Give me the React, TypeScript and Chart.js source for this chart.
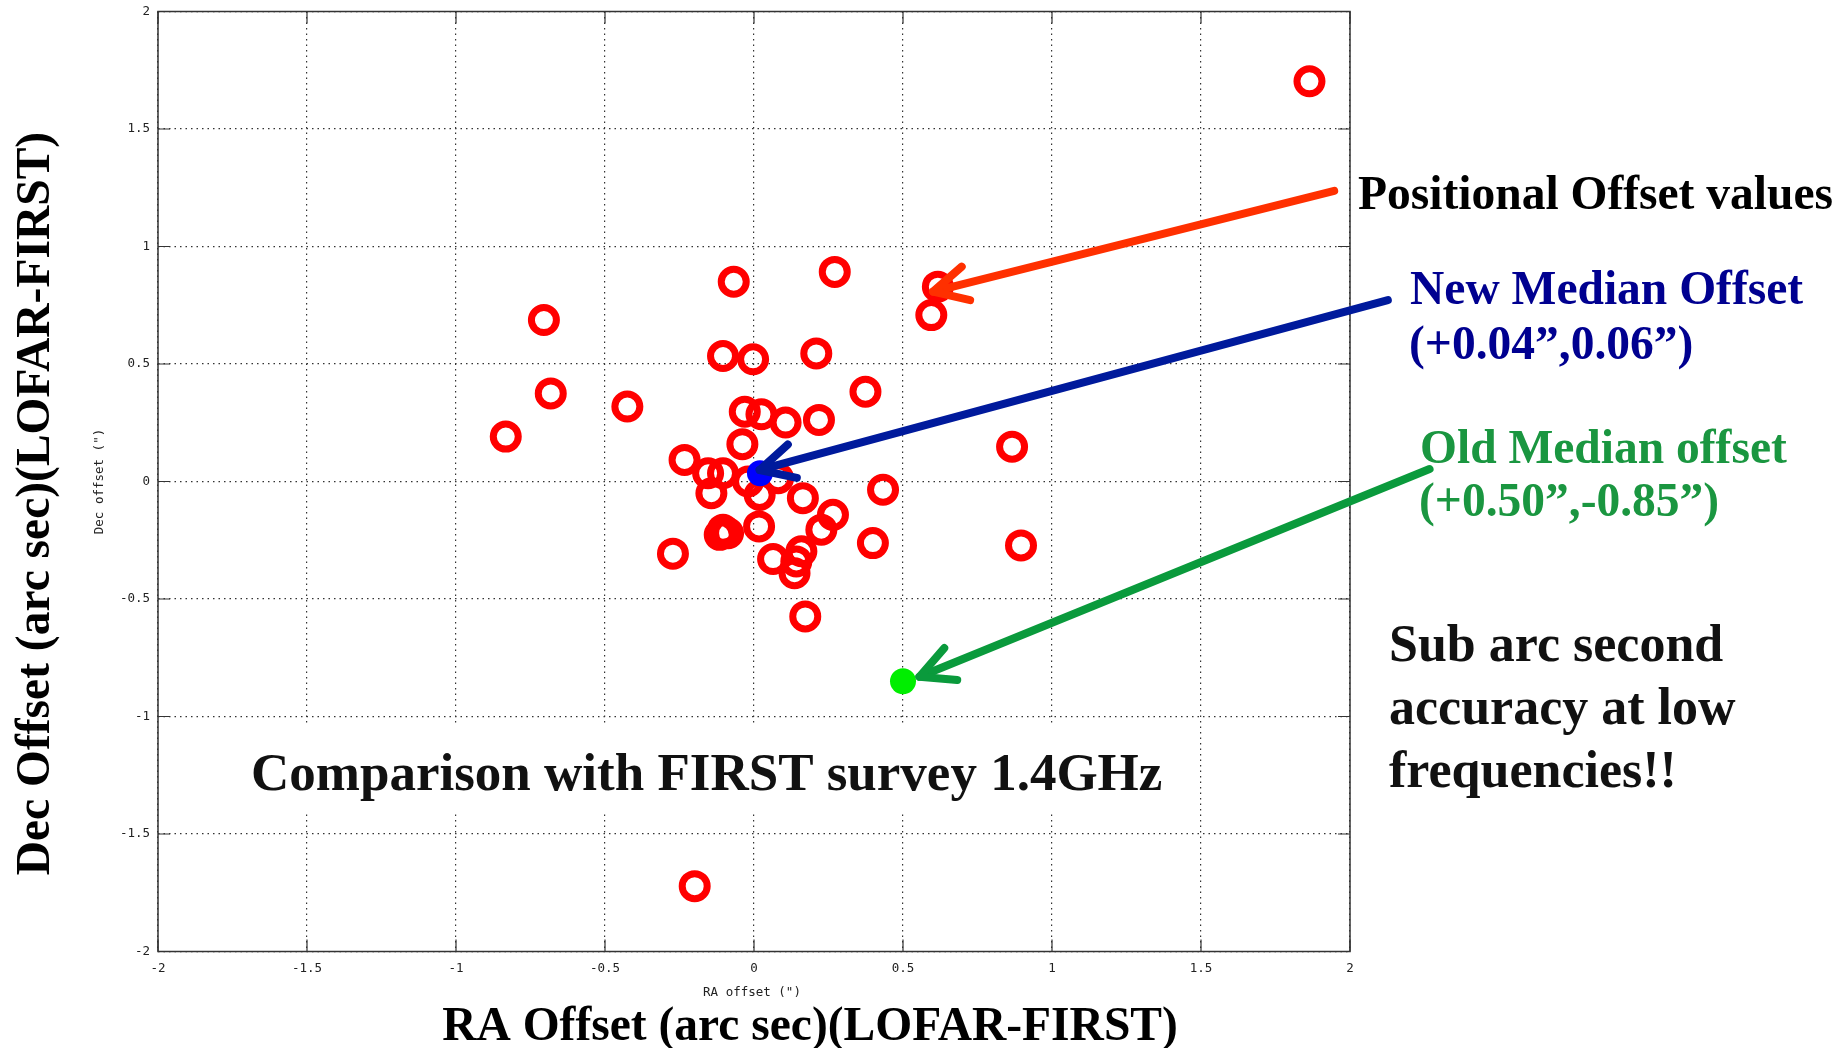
import React, { useEffect, useRef } from 'react';
import { Chart, registerables } from 'chart.js';

Chart.register(...registerables);

// ---- Data (arc sec) ----
const raOffsets = [
  1.864, 0.617, 0.595, 0.271, -0.068, -0.705, -0.104, -0.003, 0.209, -0.682,
  -0.425, 0.374, -0.833, -0.031, 0.025, 0.106, 0.218, -0.039, -0.233, -0.154,
  -0.104, -0.143, -0.02, 0.081, 0.019, 0.164, 0.433, 0.265, 0.226, 0.017,
  -0.104, -0.087, -0.115, -0.272, 0.399, 0.064, 0.159, 0.142, 0.136, 0.172,
  0.866, 0.896, -0.199,
];
const decOffsets = [
  1.703, 0.829, 0.708, 0.892, 0.85, 0.687, 0.534, 0.52, 0.545, 0.375,
  0.319, 0.382, 0.191, 0.297, 0.286, 0.251, 0.262, 0.159, 0.092, 0.035,
  0.035, -0.05, 0.0, 0.014, -0.057, -0.071, -0.035, -0.142, -0.205, -0.191,
  -0.205, -0.22, -0.227, -0.307, -0.262, -0.33, -0.297, -0.34, -0.39, -0.574,
  0.148, -0.272, -1.722,
];
const newMedianRA = [0.02];
const newMedianDec = [0.035];
const oldMedianRA = [0.5];
const oldMedianDec = [-0.85];

const axisMin = -2;
const axisMax = 2;
const tickStep = 0.5;

// annotation arrows (data units): positional, new median, old median
const arrowFromX = [1.947, 2.127, 2.267];
const arrowFromY = [1.237, 0.772, 0.053];
const arrowToX = [0.601, 0.019, 0.555];
const arrowToY = [0.808, 0.049, -0.831];
const arrowColors = ['#ff3000', '#001a9c', '#0a9a3c'];

const SERIF = "'Liberation Serif', 'Times New Roman', serif";
const MONO = "'DejaVu Sans Mono', monospace";

function drawArrow(ctx: CanvasRenderingContext2D, x0: number, y0: number, x1: number, y1: number, color: string) {
  const ang = Math.atan2(y0 - y1, x0 - x1);
  const head = 38;
  const spread = (27 * Math.PI) / 180;
  ctx.save();
  ctx.strokeStyle = color;
  ctx.lineWidth = 8;
  ctx.lineCap = 'round';
  ctx.lineJoin = 'round';
  ctx.beginPath();
  ctx.moveTo(x0, y0);
  ctx.lineTo(x1, y1);
  ctx.stroke();
  ctx.beginPath();
  ctx.moveTo(x1 + head * Math.cos(ang - spread), y1 + head * Math.sin(ang - spread));
  ctx.lineTo(x1, y1);
  ctx.lineTo(x1 + head * Math.cos(ang + spread), y1 + head * Math.sin(ang + spread));
  ctx.stroke();
  ctx.restore();
}

const overlay = {
  id: 'overlay',
  beforeDatasetsDraw(chart: any) {
    const { ctx, chartArea: a, scales } = chart;
    ctx.save();
    // white box behind the caption
    ctx.fillStyle = '#ffffff';
    ctx.fillRect(240, 724, 935, 88);
    ctx.strokeStyle = '#333';
    ctx.lineWidth = 1.5;
    ctx.strokeRect(a.left, a.top, a.right - a.left, a.bottom - a.top);
    ctx.lineWidth = 1.2;
    const tl = 12;
    ctx.beginPath();
    scales.x.ticks.forEach((t: any) => {
      const px = scales.x.getPixelForValue(t.value);
      ctx.moveTo(px, a.bottom);
      ctx.lineTo(px, a.bottom - tl);
      ctx.moveTo(px, a.top);
      ctx.lineTo(px, a.top + tl);
    });
    scales.y.ticks.forEach((t: any) => {
      const py = scales.y.getPixelForValue(t.value);
      ctx.moveTo(a.left, py);
      ctx.lineTo(a.left + tl, py);
      ctx.moveTo(a.right, py);
      ctx.lineTo(a.right - tl, py);
    });
    ctx.stroke();
    ctx.restore();
  },
  afterDraw(chart: any) {
    const { ctx, scales } = chart;
    for (let i = 0; i < arrowFromX.length; i++) {
      drawArrow(
        ctx,
        scales.x.getPixelForValue(arrowFromX[i]),
        scales.y.getPixelForValue(arrowFromY[i]),
        scales.x.getPixelForValue(arrowToX[i]),
        scales.y.getPixelForValue(arrowToY[i]),
        arrowColors[i]
      );
    }
    ctx.save();
    ctx.textAlign = 'left';
    ctx.textBaseline = 'alphabetic';
    ctx.font = `bold 47.5px ${SERIF}`;
    ctx.fillStyle = '#000000';
    ctx.fillText('Positional Offset values', 1358, 209);
    ctx.fillStyle = '#000090';
    ctx.fillText('New Median Offset', 1410, 304);
    ctx.fillText('(+0.04\u201d,0.06\u201d)', 1409, 359);
    ctx.fillStyle = '#1a9640';
    ctx.fillText('Old Median offset', 1420, 463);
    ctx.fillText('(+0.50\u201d,-0.85\u201d)', 1419, 516);
    ctx.fillStyle = '#111111';
    ctx.font = `bold 52px ${SERIF}`;
    ctx.fillText('Sub arc second', 1389, 661);
    ctx.fillText('accuracy at low', 1389, 724);
    ctx.fillText('frequencies!!', 1389, 787);
    ctx.font = `bold 53px ${SERIF}`;
    ctx.fillStyle = '#111111';
    ctx.fillText('Comparison with FIRST survey 1.4GHz', 251, 790);
    // big axis titles
    ctx.fillStyle = '#000000';
    ctx.font = `bold 47.5px ${SERIF}`;
    ctx.textAlign = 'center';
    ctx.fillText('RA Offset (arc sec)(LOFAR-FIRST)', 810, 1040);
    ctx.save();
    ctx.translate(49, 503.6);
    ctx.rotate(-Math.PI / 2);
    ctx.fillText('Dec Offset (arc sec)(LOFAR-FIRST)', 0, 0);
    ctx.restore();
    // small axis labels
    ctx.font = `12.5px ${MONO}`;
    ctx.fillStyle = '#222';
    ctx.textBaseline = 'middle';
    ctx.fillText('RA offset (")', 752, 993);
    ctx.save();
    ctx.translate(100, 481.5);
    ctx.rotate(-Math.PI / 2);
    ctx.fillText('Dec offset (")', 0, 0);
    ctx.restore();
    ctx.restore();
  },
};

const fmtTick = (v: any) => `${Number(v)}`;

export default function App() {
  const ref = useRef<HTMLCanvasElement>(null);
  useEffect(() => {
    document.body.style.margin = '0';
    const points = raOffsets.map((x, i) => ({ x, y: decOffsets[i] }));
    const chart = new Chart(ref.current as HTMLCanvasElement, {
      type: 'scatter',
      data: {
        datasets: [
          {
            label: 'New median',
            data: newMedianRA.map((x, i) => ({ x, y: newMedianDec[i] })),
            pointRadius: 13,
            pointBorderWidth: 0,
            backgroundColor: '#0000ff',
            borderColor: '#0000ff',
            order: 0,
          },
          {
            label: 'Old median',
            data: oldMedianRA.map((x, i) => ({ x, y: oldMedianDec[i] })),
            pointRadius: 13,
            pointBorderWidth: 0,
            backgroundColor: '#00ee00',
            borderColor: '#00ee00',
            order: 1,
          },
          {
            label: 'Offsets',
            data: points,
            pointRadius: 12.5,
            pointBorderWidth: 7,
            backgroundColor: 'rgba(0,0,0,0)',
            borderColor: '#ff0000',
            order: 2,
          },
        ],
      },
      options: {
        responsive: false,
        animation: false,
        devicePixelRatio: 1,
        layout: { autoPadding: false, padding: { left: 0, top: 11.5, right: 497, bottom: 56.5 } },
        plugins: { legend: { display: false }, tooltip: { enabled: false } },
        scales: {
          x: {
            type: 'linear',
            min: axisMin,
            max: axisMax,
            afterFit: (s: any) => {
              s.height = 40;
              s.paddingLeft = 0;
              s.paddingRight = 0;
            },
            ticks: {
              stepSize: tickStep,
              autoSkip: false,
              maxRotation: 0,
              padding: 10,
              color: '#222',
              font: { family: MONO, size: 12.5 },
              callback: fmtTick,
            },
            grid: { color: '#333', lineWidth: 1.2, drawTicks: false },
            border: { display: false, dash: [1.5, 4] },
          },
          y: {
            type: 'linear',
            min: axisMin,
            max: axisMax,
            afterFit: (s: any) => {
              s.width = 158;
              s.paddingTop = 0;
              s.paddingBottom = 0;
            },
            ticks: {
              stepSize: tickStep,
              autoSkip: false,
              padding: 8,
              color: '#222',
              font: { family: MONO, size: 12.5 },
              callback: fmtTick,
            },
            grid: { color: '#333', lineWidth: 1.2, drawTicks: false },
            border: { display: false, dash: [1.5, 4] },
          },
        },
      },
      plugins: [overlay],
    } as any);
    return () => chart.destroy();
  }, []);
  return (
    <div style={{ width: 1847, height: 1048, background: '#fff' }}>
      <canvas ref={ref} width={1847} height={1048} style={{ display: 'block' }} />
    </div>
  );
}
